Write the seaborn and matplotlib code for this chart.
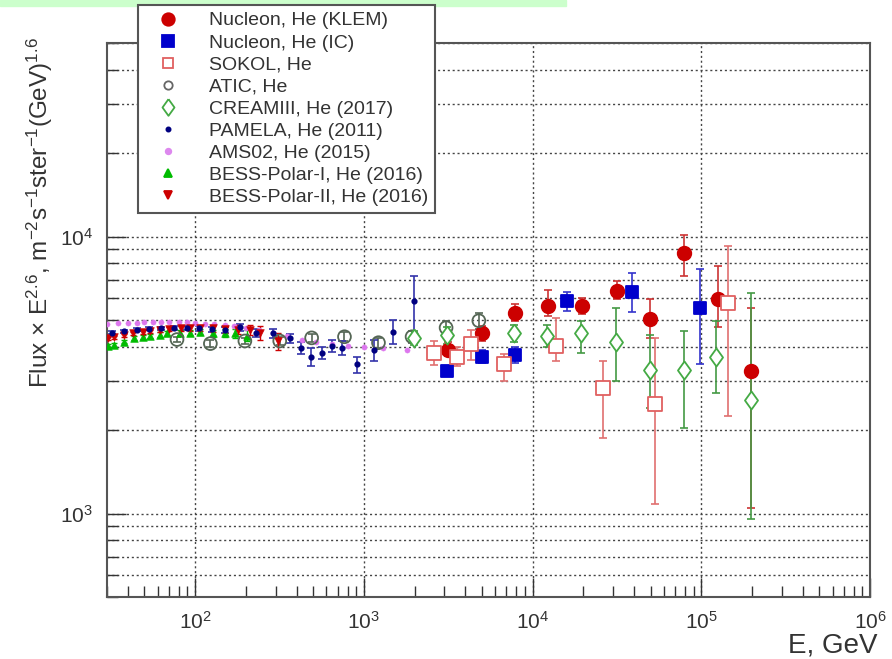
import numpy as np
import matplotlib
matplotlib.use('Agg')
import matplotlib.pyplot as plt
from matplotlib.lines import Line2D
from matplotlib.patches import Rectangle
import seaborn as sns
import pandas as pd

# ---- data (E in GeV, flux x E^2.6) ----
klem_e = [3150, 5000, 7830, 12400, 19700, 31700, 49700, 78900, 125000, 196000]
klem_f = [3910, 4470, 5320, 5630, 5630, 6380, 5060, 8760, 5970, 3260]
klem_lo = [3700, 4200, 4950, 5150, 5250, 5950, 4310, 7230, 4700, 1050]
klem_hi = [4150, 4750, 5700, 6400, 6000, 6900, 5930, 10160, 7850, 5540]

ic_e = [3110, 5000, 7830, 15900, 38900, 98000]
ic_f = [3280, 3690, 3750, 5870, 6330, 5540]
ic_lo = [3150, 3500, 3500, 5410, 5360, 3480]
ic_hi = [3420, 3900, 4000, 6290, 7410, 7660]

sokol_e = [2610, 3560, 4300, 6740, 13700, 26200, 53200, 143000]
sokol_f = [3810, 3690, 4110, 3480, 4040, 2830, 2490, 5780]
sokol_lo = [3450, 3400, 3600, 3020, 3560, 1870, 1087, 2260]
sokol_hi = [4200, 4000, 4600, 3780, 5100, 3560, 4290, 9280]

atic_e = [78, 123, 197, 317, 490, 767, 1220, 1930, 3070, 4800]
atic_f = [4250, 4110, 4200, 4200, 4310, 4350, 4140, 4350, 4690, 4970]
atic_lo = [4150, 4000, 4080, 4070, 4160, 4190, 3960, 4130, 4420, 4650]
atic_hi = [4350, 4220, 4320, 4330, 4460, 4510, 4320, 4570, 4960, 5320]

cream_e = [1990, 3110, 7730, 12100, 19400, 31300, 49700, 78900, 123000, 196000]
cream_f = [4290, 4400, 4470, 4390, 4470, 4180, 3310, 3310, 3690, 2580]
cream_lo = [4050, 4100, 4150, 4000, 3810, 3020, 2400, 2040, 2730, 960]
cream_hi = [4550, 4700, 4800, 4800, 4970, 5540, 4400, 4580, 4970, 6240]

pamela_e = [32, 38, 45, 53, 63, 75, 89, 106, 126, 150, 184, 230, 289, 363,
            422, 483, 561, 643, 737, 915, 1150, 1490, 1990]
pamela_f = [4500, 4560, 4610, 4650, 4670, 4680, 4680, 4660, 4630, 4600, 4700,
            4500, 4470, 4290, 3970, 3690, 3810, 4040, 3970, 3480, 3910, 4540, 5870]
pamela_lo = [4440, 4500, 4550, 4590, 4610, 4610, 4600, 4570, 4530, 4490, 4570,
             4350, 4300, 4140, 3780, 3400, 3610, 3840, 3750, 3230, 3560, 4110, 4310]
pamela_hi = [4560, 4620, 4670, 4710, 4730, 4750, 4760, 4750, 4730, 4710, 4830,
             4650, 4640, 4440, 4160, 3950, 4010, 4240, 4200, 3690, 4250, 5010, 7230]

ams_e = [30, 35, 40, 45, 50, 56, 63, 70, 80, 90, 100, 115, 130, 150, 170, 200,
         240, 290, 350, 430, 520, 650, 800, 1000, 1300, 1800]
ams_f = [4850, 4870, 4880, 4890, 4900, 4900, 4910, 4920, 4900, 4900, 4880, 4850,
         4820, 4780, 4740, 4680, 4600, 4500, 4380, 4250, 4150, 4080, 4030, 4000,
         3950, 3900]

bess1_e = [30.3, 32.8, 37.6, 43.1, 49.3, 54.3, 62.2, 68.4, 81.6, 93.4, 107, 128,
           150, 172, 203]
bess1_f = [4040, 4070, 4180, 4310, 4350, 4390, 4430, 4470, 4500, 4500, 4540, 4470,
           4500, 4470, 4390]
bess1_err = [60, 60, 60, 70, 70, 70, 80, 80, 90, 100, 110, 130, 150, 170, 200]

bess2_e = [30.3, 33, 37.6, 43, 49, 54, 62, 70, 82, 93, 107, 128, 150, 180, 210,
           242, 309]
bess2_f = [4290, 4330, 4400, 4470, 4520, 4550, 4600, 4640, 4660, 4680, 4680, 4660,
           4640, 4620, 4600, 4500, 4200]
bess2_err = [60, 60, 60, 70, 70, 70, 80, 80, 90, 100, 110, 130, 150, 170, 200,
             250, 300]

sns.set_theme(style='white')
plt.rcParams['font.family'] = ['Liberation Sans', 'DejaVu Sans']
plt.rcParams['mathtext.default'] = 'regular'

# open diamond, taller than wide (ROOT style)
diamond = [(0, 1), (0.72, 0), (0, -1), (-0.72, 0), (0, 1)]

fig = plt.figure(figsize=(8.92, 6.59), dpi=100)
ax = fig.add_axes([107 / 892, 1 - 597 / 659, 763 / 892, 554 / 659])

fig.patches.append(Rectangle((0, 1 - 6 / 659), 566 / 892, 6 / 659,
                             transform=fig.transFigure, color='#ccffcc',
                             zorder=0))

series = [
    # label, E, F, lo, hi, marker, size, face, edge, err colour
    ('Nucleon, He (KLEM)', klem_e, klem_f, klem_lo, klem_hi, 'o', 95, '#cc0000', '#cc0000', '#cc3333'),
    ('Nucleon, He (IC)', ic_e, ic_f, ic_lo, ic_hi, 's', 85, '#0000cc', '#0000cc', '#3333cc'),
    ('SOKOL, He', sokol_e, sokol_f, sokol_lo, sokol_hi, 's', 95, 'white', '#e06060', '#e07070'),
    ('ATIC, He', atic_e, atic_f, atic_lo, atic_hi, 'o', 85, 'none', '#556655', '#556655'),
    ('CREAMIII, He (2017)', cream_e, cream_f, cream_lo, cream_hi, diamond, 170, 'white', '#44aa44', '#449944'),
    ('PAMELA, He (2011)', pamela_e, pamela_f, pamela_lo, pamela_hi, 'o', 10, '#000080', '#000080', '#3333aa'),
]

for label, e, f, lo, hi, mk, sz, fc, ec, errc in series:
    f_arr = np.array(f)
    yerr = [f_arr - np.array(lo), np.array(hi) - f_arr]
    ax.errorbar(e, f, yerr=yerr, fmt='none', ecolor=errc, elinewidth=1.2,
                capsize=3, capthick=1.2, zorder=2)

bess_sets = [
    (bess1_e, bess1_f, bess1_err, '#00bb00'),
    (bess2_e, bess2_f, bess2_err, '#cc0000'),
]
for e, f, err, col in bess_sets:
    ax.errorbar(e, f, yerr=err, fmt='none', ecolor=col, elinewidth=1,
                capsize=2, zorder=2)

sns.scatterplot(x=ams_e, y=ams_f, ax=ax, marker='o', s=14, color='#dd77ee',
                edgecolor='#dd77ee', zorder=3)
sns.scatterplot(x=bess1_e, y=bess1_f, ax=ax, marker='^', s=30, color='#00bb00',
                edgecolor='#00bb00', zorder=3)
sns.scatterplot(x=bess2_e, y=bess2_f, ax=ax, marker='v', s=30, color='#cc0000',
                edgecolor='#cc0000', zorder=3)

for label, e, f, lo, hi, mk, sz, fc, ec, errc in series:
    df = pd.DataFrame({'E': e, 'F': f})
    sns.scatterplot(data=df, x='E', y='F', ax=ax, marker=mk, s=sz,
                    facecolor=fc, edgecolor=ec, linewidth=1.3, zorder=4)

ax.set_xscale('log')
ax.set_yscale('log')
ax.set_xlim(30, 1e6)
ax.set_ylim(500, 5e4)
ax.set_xlabel('')
ax.set_ylabel(r'Flux $\times$ E$^{2.6}$, m$^{-2}$s$^{-1}$ster$^{-1}$(GeV)$^{1.6}$',
              fontsize=17.5, color='#333333')
ax.yaxis.set_label_coords(-52 / 763, (597 - 213) / 554)

ax.grid(True, which='major', axis='x', linestyle=(0, (1.5, 2)), color='#444444', lw=1)
ax.grid(True, which='both', axis='y', linestyle=(0, (1.5, 2)), color='#444444', lw=1)
ax.tick_params(axis='both', which='both', bottom=True, left=True, top=False,
               right=False)
ax.tick_params(axis='both', which='major', direction='in', length=14, width=1,
               labelsize=15, colors='#333333', pad=10)
ax.tick_params(axis='both', which='minor', direction='in', length=8, width=1,
               colors='#333333')
ax.yaxis.set_minor_formatter(matplotlib.ticker.NullFormatter())
for sp in ax.spines.values():
    sp.set_color('#555555')
    sp.set_linewidth(1.5)

fig.text(878 / 892, 1 - 645 / 659, 'E, GeV', ha='right', va='center',
         fontsize=20, color='#333333')

legend_specs = [
    ('Nucleon, He (KLEM)', 'o', 9, '#cc0000', '#cc0000'),
    ('Nucleon, He (IC)', 's', 8, '#0000cc', '#0000cc'),
    ('SOKOL, He', 's', 7, 'white', '#e06060'),
    ('ATIC, He', 'o', 6, 'white', '#666666'),
    ('CREAMIII, He (2017)', diamond, 12, 'white', '#44aa44'),
    ('PAMELA, He (2011)', 'o', 3, '#000080', '#000080'),
    ('AMS02, He (2015)', 'o', 4, '#dd88ee', '#dd88ee'),
    ('BESS-Polar-I, He (2016)', '^', 6, '#00bb00', '#00bb00'),
    ('BESS-Polar-II, He (2016)', 'v', 6, '#cc0000', '#cc0000'),
]
handles = [Line2D([], [], linestyle='none', marker=m, markersize=ms,
                  markerfacecolor=fc, markeredgecolor=ec, markeredgewidth=1.3,
                  label=lab)
           for lab, m, ms, fc, ec in legend_specs]
leg = fig.legend(handles=handles, loc='upper left',
                 bbox_to_anchor=(138 / 892, 1 - 5 / 659), fontsize=14,
                 frameon=True, fancybox=False, framealpha=1, edgecolor='#555555',
                 handletextpad=0.9, labelspacing=0.23, borderpad=0.35,
                 handlelength=2.4, borderaxespad=0)
leg.get_frame().set_linewidth(1.5)
for t in leg.get_texts():
    t.set_color('#333333')

fig.savefig('out.png', dpi=100, facecolor='white')
